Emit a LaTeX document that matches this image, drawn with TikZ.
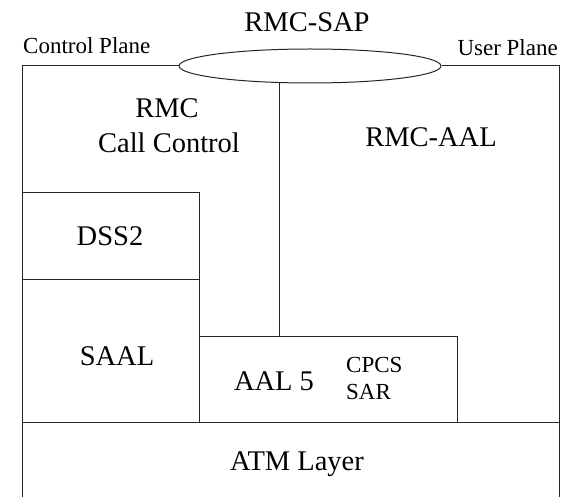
\documentclass[tikz,border=0pt]{standalone}
\usepackage{fontspec}
\setmainfont{Liberation Serif}
\usetikzlibrary{shapes.geometric}
\tikzset{
  ln/.style={draw=black!85, line width=1pt},
  big/.style={font=\fontsize{28.5}{34}\selectfont, anchor=base, inner sep=0pt},
  small/.style={font=\fontsize{23}{27}\selectfont, anchor=base, inner sep=0pt},
  boxnode/.style={ln, rectangle, inner sep=0pt, anchor=north west}
}
\begin{document}
\begin{tikzpicture}[x=1pt, y=-1pt]
\useasboundingbox (0,0) rectangle (562,497);
% ellipse SAP
\node[ln, ellipse, minimum width=262pt, minimum height=34pt, inner sep=0pt] (sap) at (310,66) {};
% outer frame
\coordinate (tl) at (22,66);
\coordinate (tr) at (559,66);
\coordinate (bl) at (22,497);
\coordinate (br) at (559,497);
\draw[ln] (bl) -- (tl) -- (sap.west);
\draw[ln] (sap.east) -- (tr) -- (br);
% boxes
\node[boxnode, minimum width=177pt, minimum height=87pt] (dss) at (22,192) {};
\node[boxnode, minimum width=177pt, minimum height=143pt] (saal) at (22,279) {};
\node[boxnode, minimum width=258pt, minimum height=86pt] (aal) at (199,336) {};
\coordinate (atml) at (22,422);
\coordinate (atmr) at (559,422);
\draw[ln] (atml) -- (atmr);
% vertical connector
\coordinate (vtop) at (279,83);
\draw[ln] (vtop) -- (vtop |- aal.north);
% texts
\node[big] (t1) at (307,32) {RMC-SAP};
\node[small, anchor=base west] (t2) at (23,54) {Control Plane};
\node[small, anchor=base east] (t3) at (558,56) {User Plane};
\node[big] (t4) at (167,118) {RMC};
\node[big] (t5) at (169,153) {Call Control};
\node[big] (t6) at (431,147) {RMC-AAL};
\node[big] (t7) at (110,245) {DSS2};
\node[big] (t8) at (117,365) {SAAL};
\node[big] (t9) at (274,390) {AAL 5};
\node[small, anchor=base west] (t10) at (346,372) {CPCS};
\node[small, anchor=base west] (t11) at (346,399) {SAR};
\node[big] (t12) at (297,470) {ATM Layer};
\end{tikzpicture}
\end{document}
